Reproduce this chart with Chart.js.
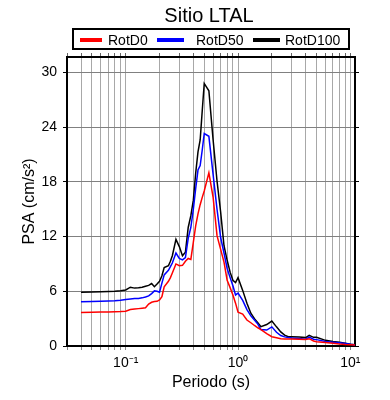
<!DOCTYPE html>
<html>
<head>
<meta charset="utf-8">
<script src="https://cdn.jsdelivr.net/npm/chart.js@4.4.0/dist/chart.umd.min.js"></script>
<style>
html,body{margin:0;padding:0;background:#fff;}
</style>
</head>
<body>
<canvas id="chart" width="390" height="400"></canvas>
<script>
// data
const chartTitle = "Sitio LTAL";
const seriesNames = ["RotD0", "RotD50", "RotD100"];
const seriesColors = ["#ff0000", "#0000ff", "#000000"];

const periods = [0.04,0.05,0.06,0.07,0.08,0.09,
  0.1,0.11,0.12,0.13,0.14,0.15,0.16,0.17,0.18,0.19,0.2,
  0.21,0.22,0.24,0.25,0.26,0.28,
  0.3,0.32,0.34,0.36,0.38,
  0.4,0.42,0.44,0.46,0.48,
  0.5,0.55,0.6,0.65,0.7,0.75,0.8,0.85,0.9,0.95,
  1.0,1.1,1.2,1.3,1.4,1.5,1.6,1.8,
  2.0,2.2,2.4,2.6,2.8,
  3.0,3.5,4.0,4.3,4.7,5.0,
  6,7,8,9,10,11];

const rotD0 = [3.68,3.7,3.72,3.73,3.75,3.78,
  3.82,4.0,4.05,4.1,4.15,4.2,4.6,4.8,4.87,4.9,5.05,
  5.4,6.5,7.1,7.5,8.0,9.0,
  8.8,8.85,9.3,9.6,9.5,
  11.4,13.2,14.5,15.5,16.3,
  17.0,19.0,16.3,12.1,10.6,9.2,7.2,6.4,5.6,4.7,
  3.7,3.5,2.85,2.55,2.25,2.0,1.8,1.35,
  1.02,0.9,0.8,0.78,0.77,
  0.77,0.75,0.72,0.8,0.55,0.47,
  0.38,0.3,0.22,0.17,0.14,0.1];

const rotD50 = [4.85,4.87,4.9,4.93,4.97,5.02,
  5.1,5.15,5.2,5.22,5.28,5.38,5.5,5.75,6.05,6.0,5.9,
  6.9,7.8,8.3,8.7,9.1,10.2,
  9.6,9.45,9.7,11.8,13.0,
  15.0,17.3,19.3,19.8,21.5,
  23.3,23.0,18.8,15.0,11.9,10.2,8.5,7.5,6.6,5.6,
  5.8,5.0,4.0,3.3,2.85,2.4,1.8,1.75,
  2.1,1.5,1.15,1.0,0.92,
  0.88,0.82,0.75,0.98,0.75,0.7,
  0.5,0.42,0.35,0.27,0.18,0.12];

const rotD100 = [5.9,5.92,5.95,5.97,6.0,6.06,
  6.15,6.45,6.35,6.38,6.45,6.55,6.65,6.85,6.5,6.8,7.1,
  7.7,8.6,8.8,9.3,9.9,11.7,
  10.9,9.9,10.3,13.0,14.3,
  16.0,19.0,21.3,22.6,25.8,
  28.8,28.0,22.6,18.1,14.7,11.0,9.4,8.1,7.2,6.95,
  7.5,6.1,4.7,3.6,3.0,2.55,2.12,2.35,
  2.74,2.1,1.55,1.2,1.02,
  1.02,0.98,0.92,1.17,0.95,0.95,
  0.62,0.5,0.42,0.3,0.2,0.13];

// axes
const xMin = 0.03, xMax = 11;
const xMajor = [0.1, 1, 10];
const xMajorLabels = ["10\u207B\u00B9", "10\u2070", "10\u00B9"];
const xMinorMults = [1,2,3,4,5,6,7,8,9];
const xDecades = [0.01, 0.1, 1, 10];
const yMin = 0, yMax = 31.7;
const yTicks = [0, 6, 12, 18, 24, 30];

const xGrid = [];
xDecades.forEach(d => xMinorMults.forEach(m => {
  const v = +(m * d).toPrecision(3);
  if (v >= xMin && v <= xMax) xGrid.push(v);
}));

const FONT = "'Liberation Sans', Arial, sans-serif";

function majorLabel(v){
  for (let i = 0; i < xMajor.length; i++) {
    if (Math.abs(v - xMajor[i]) < 1e-9) return xMajorLabels[i];
  }
  return "";
}

const allSeries = [rotD0, rotD50, rotD100];
const datasets = allSeries.map((vals, i) => ({
  label: seriesNames[i],
  data: periods.map((t, j) => ({x: t, y: vals[j]})),
  borderColor: seriesColors[i],
  backgroundColor: seriesColors[i],
  borderWidth: 1.5,
  pointRadius: 0,
  tension: 0,
  fill: false
}));

const header = {
  id: "header",
  afterDraw(chart){
    const ctx = chart.ctx;
    ctx.save();
    ctx.fillStyle = "#000";
    ctx.font = "20px " + FONT;
    ctx.textAlign = "center";
    ctx.textBaseline = "alphabetic";
    ctx.fillText(chartTitle, 209, 22);

    ctx.lineWidth = 2;
    ctx.strokeStyle = "#000";
    ctx.strokeRect(73, 29, 276, 20);

    const items = [[80, 102, 108], [157, 184, 196], [253, 280, 285]];
    ctx.font = "14px " + FONT;
    ctx.textAlign = "left";
    items.forEach((it, i) => {
      ctx.strokeStyle = seriesColors[i];
      ctx.lineWidth = 4;
      ctx.beginPath();
      ctx.moveTo(it[0], 40);
      ctx.lineTo(it[1], 40);
      ctx.stroke();
      ctx.fillStyle = "#000";
      ctx.fillText(seriesNames[i], it[2], 45);
    });
    ctx.restore();
  }
};

const setXTicks = s => { s.ticks = xGrid.map(v => ({value: v})); };
const setYTicks = s => { s.ticks = yTicks.map(v => ({value: v})); };

new Chart(document.getElementById("chart"), {
  type: "line",
  data: { datasets: datasets },
  plugins: [header],
  options: {
    responsive: false,
    animation: false,
    devicePixelRatio: 1,
    layout: { padding: { left: 20, right: 30, top: 52, bottom: 0 } },
    plugins: { legend: { display: false }, title: { display: false }, tooltip: { enabled: false } },
    scales: {
      x: {
        type: "logarithmic", position: "bottom", min: xMin, max: xMax,
        afterBuildTicks: setXTicks,
        afterFit: s => { s.height = 54; },
        ticks: {
          autoSkip: false, maxRotation: 0, padding: 5, color: "#000",
          font: { family: FONT, size: 14 },
          callback: v => majorLabel(v)
        },
        grid: { color: "#a8a8a8", lineWidth: 1, tickLength: 4, tickColor: "#888" },
        border: { color: "#000", width: 2 },
        title: { display: true, text: "Periodo (s)", color: "#000",
          font: { family: FONT, size: 16 }, padding: { top: 0, bottom: 8 } }
      },
      x2: {
        type: "logarithmic", position: "top", min: xMin, max: xMax,
        afterBuildTicks: setXTicks,
        afterFit: s => { s.height = 5; },
        ticks: { display: false },
        grid: { drawOnChartArea: false, tickLength: 4, tickColor: "#666" },
        border: { color: "#000", width: 2 }
      },
      y: {
        type: "linear", position: "left", min: yMin, max: yMax,
        afterBuildTicks: setYTicks,
        afterFit: s => { s.width = 47; },
        ticks: { padding: 6, color: "#000", font: { family: FONT, size: 14 } },
        grid: { color: "#808080", lineWidth: 1, tickLength: 4, tickColor: "#000" },
        border: { color: "#000", width: 2 },
        title: { display: true, text: "PSA (cm/s\u00B2)", color: "#000",
          font: { family: FONT, size: 16 }, padding: { top: 0, bottom: 0 } }
      },
      y2: {
        type: "linear", position: "right", min: yMin, max: yMax,
        afterBuildTicks: setYTicks,
        afterFit: s => { s.width = 5; },
        ticks: { display: false },
        grid: { drawOnChartArea: false, tickLength: 4, tickColor: "#000" },
        border: { color: "#000", width: 2 }
      }
    }
  }
});
</script>
</body>
</html>
